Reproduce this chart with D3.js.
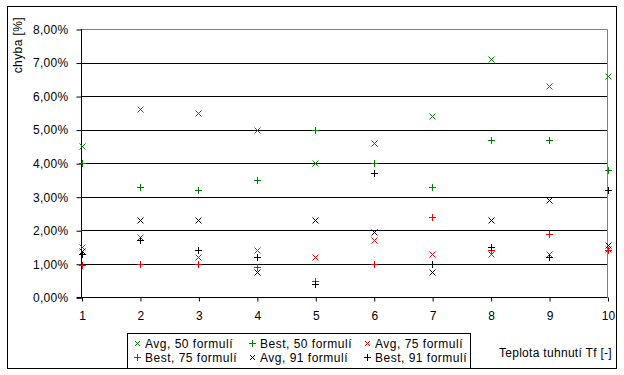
<!DOCTYPE html>
<html><head><meta charset="utf-8">
<script src="https://cdn.jsdelivr.net/npm/d3@7"></script>
<style>body{margin:0;background:#fff}svg{display:block;font-family:"Liberation Sans",Arial,sans-serif}</style>
</head><body><svg id="c" width="624" height="375"></svg>
<script>
const categories = [1,2,3,4,5,6,7,8,9,10];
const avg50  = [4.5, 5.6, 5.5, 5.0, 4.0, 4.6, 5.4, 7.1, 6.3, 6.6];
const best50 = [4.0, 3.3, 3.2, 3.5, 5.0, 4.0, 3.3, 4.7, 4.7, 3.8];
const avg75  = [1.5, 1.8, 1.2, 1.4, 1.2, 1.7, 1.3, 1.3, 1.3, 1.45];
const best75 = [0.95, 1.0, 1.0, 0.9, 0.5, 1.0, 2.4, 1.4, 1.9, 1.4];
const avg91  = [1.38, 2.3, 2.3, 0.75, 2.3, 1.95, 0.75, 2.3, 2.9, 1.55];
const best91 = [1.28, 1.7, 1.4, 1.2, 0.4, 3.7, 1.0, 1.5, 1.2, 3.2];
const yTicks = [0,1,2,3,4,5,6,7,8];
const seriesNames = ["Avg, 50 formulí","Best, 50 formulí","Avg, 75 formulí","Best, 75 formulí","Avg, 91 formulí","Best, 91 formulí"];
const seriesColors = ["#008000","#008000","#ff0000","#ff0000","#000000","#000000"];
const seriesShapes = ["x","+","x","+","x","+"];
const seriesData = [avg50,best50,avg75,best75,avg91,best91];

const svg = d3.select("#c");
const L=81.5, R=607.5, T=29, B=297.3;
const x = d3.scaleLinear().domain([1,10]).range([L,R]);
const y = d3.scaleLinear().domain([0,8]).range([B,T]);

svg.append("rect").attr("x",7.5).attr("y",6.5).attr("width",609).attr("height",362).attr("fill","none").attr("stroke","#000");

svg.append("g").selectAll("line").data(yTicks.filter(d=>d>0&&d<8)).join("line")
  .attr("x1",L).attr("x2",R).attr("y1",d=>Math.round(y(d))+0.5).attr("y2",d=>Math.round(y(d))+0.5)
  .attr("stroke","#000");
svg.append("path").attr("d",`M${L},${Math.round(T)+0.5}H${R}V${Math.round(B)+0.5}`).attr("fill","none").attr("stroke","#808080");

const yAxis = d3.axisLeft(y).tickValues(yTicks).tickSize(5).tickPadding(8)
  .tickFormat(d=>d3.format(".2f")(d).replace(".",",")+"%");
const gy = svg.append("g").attr("transform",`translate(${L},0.5)`).call(yAxis);
gy.select(".domain").remove();
gy.selectAll("line").attr("stroke","#000");
gy.selectAll("text").attr("font-size","12px").attr("letter-spacing","0.3px").attr("fill","#000");
svg.append("line").attr("x1",L).attr("x2",L).attr("y1",T).attr("y2",B+1).attr("stroke","#000");

const xAxis = d3.axisBottom(x).tickValues(categories).tickSize(4).tickPadding(10).tickFormat(d3.format("d"));
const gx = svg.append("g").attr("transform",`translate(0.5,${Math.round(B)+0.5})`).call(xAxis);
gx.select(".domain").remove();
gx.selectAll("line").attr("stroke","#000");
gx.selectAll("text").attr("font-size","12px").attr("fill","#000");
svg.append("line").attr("x1",L-5).attr("x2",R).attr("y1",Math.round(B)+0.5).attr("y2",Math.round(B)+0.5).attr("stroke","#000");

function markerPath(shape, cx, cy, s){
  if(shape==="x") return `M${cx-s},${cy-s}L${cx+s},${cy+s}M${cx-s},${cy+s}L${cx+s},${cy-s}`;
  return `M${cx-s-0.5},${cy}H${cx+s+0.5}M${cx},${cy-s-0.5}V${cy+s+0.5}`;
}

seriesData.forEach((arr,i)=>{
  svg.append("g").selectAll("path").data(arr).join("path")
    .attr("d",(v,j)=>markerPath(seriesShapes[i], Math.round(x(categories[j]))+0.5, Math.round(y(v))+0.5, 3))
    .attr("stroke",seriesColors[i]).attr("fill","none").attr("stroke-width",1);
});

svg.append("text").attr("transform","translate(22,17) rotate(-90)").attr("text-anchor","end")
  .attr("font-size","12px").attr("letter-spacing","0.4px").text("chyba [%]");
svg.append("text").attr("x",612).attr("y",357).attr("text-anchor","end").attr("font-size","12px")
  .attr("letter-spacing","0.3px").text("Teplota tuhnutí Tf [-]");

svg.append("rect").attr("x",127.5).attr("y",333.5).attr("width",343).attr("height",35).attr("fill","#fff").attr("stroke","#000");
const colX=[137,252,367], rowY=[343,357];
seriesNames.forEach((n,i)=>{
  const cx=colX[i%3], cy=rowY[Math.floor(i/3)];
  svg.append("path").attr("d",markerPath(seriesShapes[i],cx+0.5,cy+0.5,seriesShapes[i]==="x"?2.5:3))
    .attr("stroke",seriesColors[i]).attr("fill","none");
  svg.append("text").attr("x",cx+8).attr("y",cy+4.5).attr("font-size","12px").attr("letter-spacing","0.5px").text(n);
});
</script></body></html>
